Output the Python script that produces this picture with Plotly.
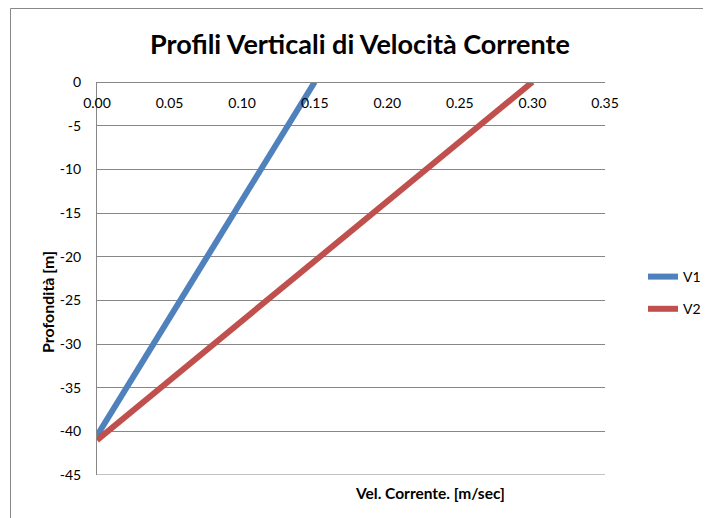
import plotly.graph_objects as go

# Data
v1_vel = [0.15, 0.0]
v1_depth = [0, -40.5]
v2_vel = [0.30, 0.0]
v2_depth = [0, -41]
series_names = ["V1", "V2"]
colors = ["#4F81BD", "#C0504D"]
x_tickvals = [0.00, 0.05, 0.10, 0.15, 0.20, 0.25, 0.30, 0.35]
y_tickvals = [0, -5, -10, -15, -20, -25, -30, -35, -40, -45]
y_ticktext = ["0", "-5", "-10", "-15", "-20", "-25", "-30", "-35", "-40", "-45"]

FONT = "Lato"
OFF = 8  # page body margin offset
W, H = 711, 518
L, T = 97 - OFF, 82 - OFF
R = W - (605 - OFF)
B = H - (475 - OFF)
pw = W - L - R
ph = H - T - B

fig = go.Figure()
for name, xs, ys, c in zip(series_names, [v1_vel, v2_vel], [v1_depth, v2_depth], colors):
    fig.add_trace(go.Scatter(x=xs, y=ys, mode="lines", name=name, legendgroup=name,
                             line=dict(color=c, width=6)))

def px_x(px):
    # px given in reference screen coordinates
    return (px - OFF - L) / pw

def px_y(py):
    return (H - B - (py - OFF)) / ph

fig.update_layout(
    width=W, height=H,
    margin=dict(l=L, r=R, t=T, b=B),
    paper_bgcolor="white", plot_bgcolor="white",
    font=dict(family=FONT, color="#000000", size=13),
    title=dict(text="<b>Profili Verticali di Velocità Corrente</b>",
               x=(360 - OFF) / W, xanchor="center",
               y=1 - (45 - OFF) / H, yanchor="middle", font=dict(size=27, family=FONT)),
    xaxis=dict(range=[0, 0.35], side="bottom", anchor="free", position=1,
               tickvals=x_tickvals, tickformat=".2f", automargin=False,
               showgrid=False, zeroline=False, showline=True, linecolor="#878787", linewidth=1,
               ticks="", ticklabelstandoff=8,
               tickfont=dict(size=14, family=FONT)),
    yaxis=dict(range=[-45, 0], tickvals=y_tickvals, ticktext=y_ticktext, automargin=False,
               showgrid=True, gridcolor="#878787", gridwidth=1,
               zeroline=False, showline=True, linecolor="#878787", linewidth=1, ticks="",
               ticklabelstandoff=12, tickfont=dict(size=14, family=FONT)),
    legend=dict(x=px_x(643), y=px_y(261), xanchor="left", yanchor="top",
                traceorder="grouped", tracegroupgap=11, font=dict(size=14, family=FONT),
                bgcolor="rgba(0,0,0,0)"),
    showlegend=True,
)

fig.add_annotation(text="<b>Vel. Corrente. [m/sec]</b>", xref="paper", yref="paper",
                   x=px_x(430), y=px_y(493), xanchor="center", yanchor="middle",
                   showarrow=False, font=dict(size=15.5, family=FONT))

fig.add_annotation(text="<b>Profondità [m]</b>", xref="paper", yref="paper", textangle=-90,
                   x=px_x(47), y=px_y(302), xanchor="center", yanchor="middle",
                   showarrow=False, font=dict(size=16, family=FONT))

# bottom horizontal rule of the plot area at the -45 level
fig.add_shape(type="line", xref="paper", yref="y", x0=0, x1=1, y0=-45, y1=-45,
              line=dict(color="#878787", width=1), layer="below")

# chart-area border (extends past right and bottom edges)
fig.add_shape(type="rect", xref="paper", yref="paper",
              x0=px_x(10.5), x1=px_x(W + 20), y0=px_y(H + 20), y1=px_y(8.5),
              line=dict(color="#888888", width=1), fillcolor="rgba(0,0,0,0)", layer="below")

fig.write_html("out.html")
